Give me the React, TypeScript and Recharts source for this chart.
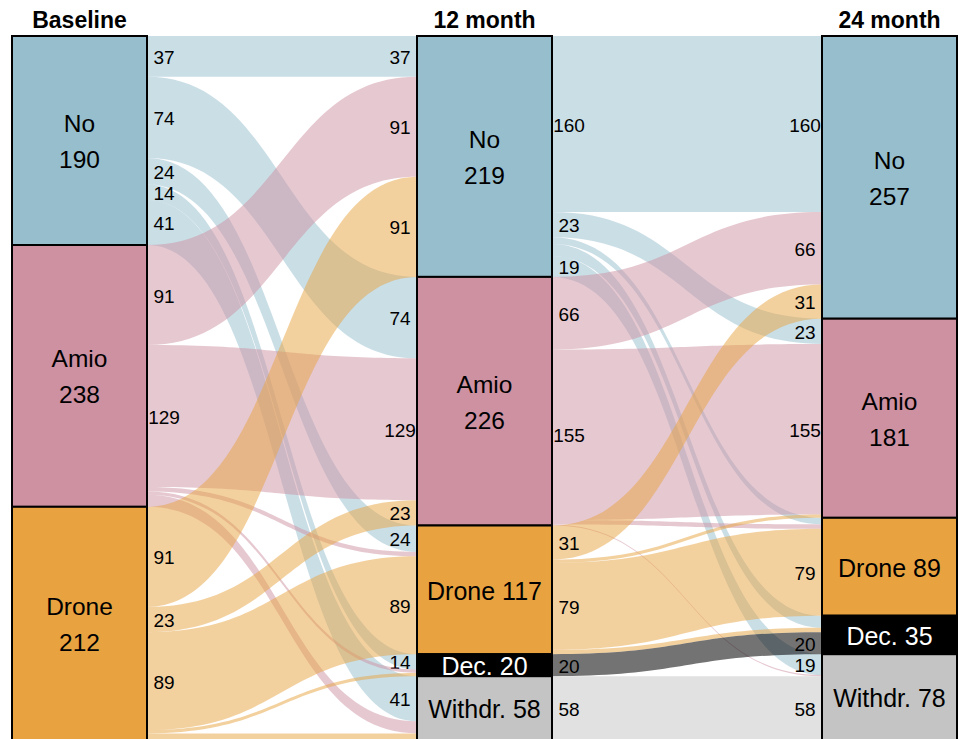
import React from 'react';
import { Sankey } from 'recharts';

const stageTitles = ['Baseline', '12 month', '24 month'];
const baselineStates = ['No', 'Amio', 'Drone'];
const followUpStates = ['No', 'Amio', 'Drone', 'Dec.', 'Withdr.'];

// rows: state at baseline, columns: state at 12 month
const baselineTo12 = [
  [37, 74, 24, 14, 41],
  [91, 129, 4, 3, 11],
  [91, 23, 89, 3, 6],
];

// rows: state at 12 month, columns: state at 24 month
const month12To24 = [
  [160, 23, 6, 11, 19],
  [66, 155, 4, 0, 1],
  [31, 3, 79, 4, 0],
  [0, 0, 0, 20, 0],
  [0, 0, 0, 0, 58],
];

const stateColors: Record<string, string> = {
  No: '#96becd',
  Amio: '#cd91a2',
  Drone: '#e8a340',
  'Dec.': '#000000',
  'Withdr.': '#c4c4c4',
};

const FONT = 'Arial, "Liberation Sans", sans-serif';

const nodes = [
  ...baselineStates.map((name, i) => ({ name, stage: 0, first: i === 0 })),
  ...followUpStates.map((name, i) => ({ name, stage: 1, first: i === 0 })),
  ...followUpStates.map((name, i) => ({ name, stage: 2, first: i === 0 })),
];

const links: { source: number; target: number; value: number }[] = [];
baselineTo12.forEach((row, i) =>
  row.forEach((value, j) => {
    if (value > 0) links.push({ source: i, target: baselineStates.length + j, value });
  }),
);
month12To24.forEach((row, i) =>
  row.forEach((value, j) => {
    if (value > 0)
      links.push({
        source: baselineStates.length + i,
        target: baselineStates.length + followUpStates.length + j,
        value,
      });
  }),
);

const StateNode = (props: any) => {
  const { x, y, width, height, payload } = props;
  const name: string = payload.name;
  const cx = x + width / 2;
  const cy = y + height / 2;
  const textColor = name === 'Dec.' ? '#ffffff' : '#000000';
  const twoLines = height > 160;
  return (
    <g>
      <rect x={x} y={y} width={width} height={height} fill={stateColors[name]} stroke="#000" strokeWidth={2} />
      {twoLines ? (
        <text textAnchor="middle" fontSize={24.5} fontFamily={FONT} fill={textColor}>
          <tspan x={cx} y={cy - 17} dominantBaseline="central">{name}</tspan>
          <tspan x={cx} y={cy + 19} dominantBaseline="central">{payload.value}</tspan>
        </text>
      ) : (
        <text x={cx} y={cy + 1} textAnchor="middle" dominantBaseline="central" fontSize={25} fontFamily={FONT} fill={textColor}>
          {`${name} ${payload.value}`}
        </text>
      )}
      {payload.first && (
        <text x={cx} y={y - 8} textAnchor="middle" fontSize={23} fontWeight="bold" fontFamily={FONT} fill="#000">
          {stageTitles[payload.stage]}
        </text>
      )}
    </g>
  );
};

const FlowRibbon = (props: any) => {
  const { sourceX, targetX, sourceY, targetY, sourceControlX, targetControlX, linkWidth, payload } = props;
  const half = linkWidth / 2;
  const srcName: string = payload.source?.name ?? nodes[payload.source].name;
  const d =
    `M${sourceX},${sourceY - half} C${sourceControlX},${sourceY - half} ${targetControlX},${targetY - half} ${targetX},${targetY - half} ` +
    `L${targetX},${targetY + half} C${targetControlX},${targetY + half} ${sourceControlX},${sourceY + half} ${sourceX},${sourceY + half} Z`;
  const opacity = srcName === 'Dec.' ? 0.55 : 0.5;
  const showLabel = payload.value >= 12;
  return (
    <g>
      <path d={d} fill={stateColors[srcName]} fillOpacity={opacity} stroke="none" />
      {showLabel && (
        <>
          <text x={sourceX + 17} y={sourceY + 1} textAnchor="middle" dominantBaseline="central" fontSize={19} fontFamily={FONT} fill="#000">
            {payload.value}
          </text>
          <text x={targetX - 17} y={targetY + 1} textAnchor="middle" dominantBaseline="central" fontSize={19} fontFamily={FONT} fill="#000">
            {payload.value}
          </text>
        </>
      )}
    </g>
  );
};

export default function App() {
  return (
    <div style={{ position: 'absolute', left: 0, top: 0, width: 961, height: 739, overflow: 'hidden', background: '#fff' }}>
      <Sankey
        width={961}
        height={740}
        data={{ nodes, links }}
        margin={{ top: 36, right: 4, bottom: 0, left: 12 }}
        nodeWidth={135}
        nodePadding={0}
        iterations={0}
        linkCurvature={0.5}
        node={<StateNode />}
        link={<FlowRibbon />}
      />
    </div>
  );
}
